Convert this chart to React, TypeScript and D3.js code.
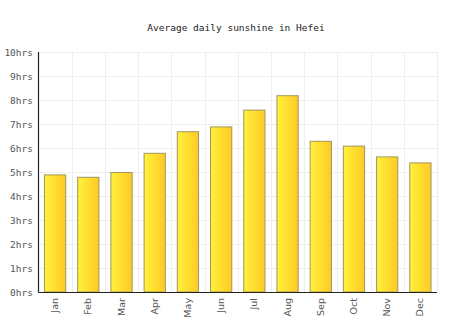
import React from "react";
import * as d3 from "d3";

const months = ["Jan", "Feb", "Mar", "Apr", "May", "Jun", "Jul", "Aug", "Sep", "Oct", "Nov", "Dec"];
const sunshine = [4.9, 4.8, 5.0, 5.8, 6.7, 6.9, 7.6, 8.2, 6.3, 6.1, 5.65, 5.4];
const yTicks = [0, 1, 2, 3, 4, 5, 6, 7, 8, 9, 10];
const title = "Average daily sunshine in Hefei";

export default function App() {
  const W = 474, H = 331;
  const left = 38.5, right = 437, top = 52, bottom = 292;
  const x = d3.scaleBand<string>().domain(months).range([left, right]).paddingInner(0.33).paddingOuter(0.165);
  const xg = d3.scaleBand<string>().domain(months).range([left, right]);
  const y = d3.scaleLinear().domain([0, 10]).range([bottom, top]);
  const mono = "'DejaVu Sans Mono', monospace";
  const sans = "'DejaVu Sans', sans-serif";
  return (
    <svg width={W} height={H} style={{ position: "absolute", left: 0, top: 0 }}>
      <defs>
        <linearGradient id="bg" x1="0" x2="1" y1="0" y2="0">
          <stop offset="0" stopColor="#fff23a" />
          <stop offset="1" stopColor="#ffc925" />
        </linearGradient>
      </defs>
      <rect width={W} height={H} fill="#fff" />
      <text x={236} y={31} textAnchor="middle" fontFamily={mono} fontSize={9.5} fill="#222">{title}</text>
      {yTicks.map((t) => (
        <line key={"h" + t} x1={left} x2={right} y1={Math.round(y(t)) + 0.5} y2={Math.round(y(t)) + 0.5} stroke="#eeeeee" />
      ))}
      {months.map((m) => (
        <line key={"v" + m} x1={Math.round((xg(m) as number) + xg.bandwidth()) + 0.5} x2={Math.round((xg(m) as number) + xg.bandwidth()) + 0.5} y1={top} y2={bottom} stroke="#eeeeee" />
      ))}
      {yTicks.map((t) => (
        <text key={"yl" + t} x={33} y={y(t) + 3.5} textAnchor="end" fontFamily={mono} fontSize={9.5} fill="#555">{t + "hrs"}</text>
      ))}
      {months.map((m, i) => (
        <rect key={"b" + m} x={(x(m) as number) + 0.5} y={y(sunshine[i]) + 0.5} width={x.bandwidth() - 1} height={bottom - y(sunshine[i]) - 0.5}
          fill="url(#bg)" stroke="#a09660" strokeWidth={1} />
      ))}
      <line x1={left} x2={left} y1={top} y2={bottom + 0.5} stroke="#222" strokeWidth={1.2} />
      <line x1={left} x2={right} y1={bottom + 0.5} y2={bottom + 0.5} stroke="#222" strokeWidth={1.2} />
      {months.map((m) => {
        const cx = (x(m) as number) + x.bandwidth() / 2 + 3;
        return (
          <text key={"xl" + m} transform={`translate(${cx},298) rotate(-90)`} textAnchor="end" fontFamily={sans} fontSize={9.5} fill="#555">{m}</text>
        );
      })}
    </svg>
  );
}
